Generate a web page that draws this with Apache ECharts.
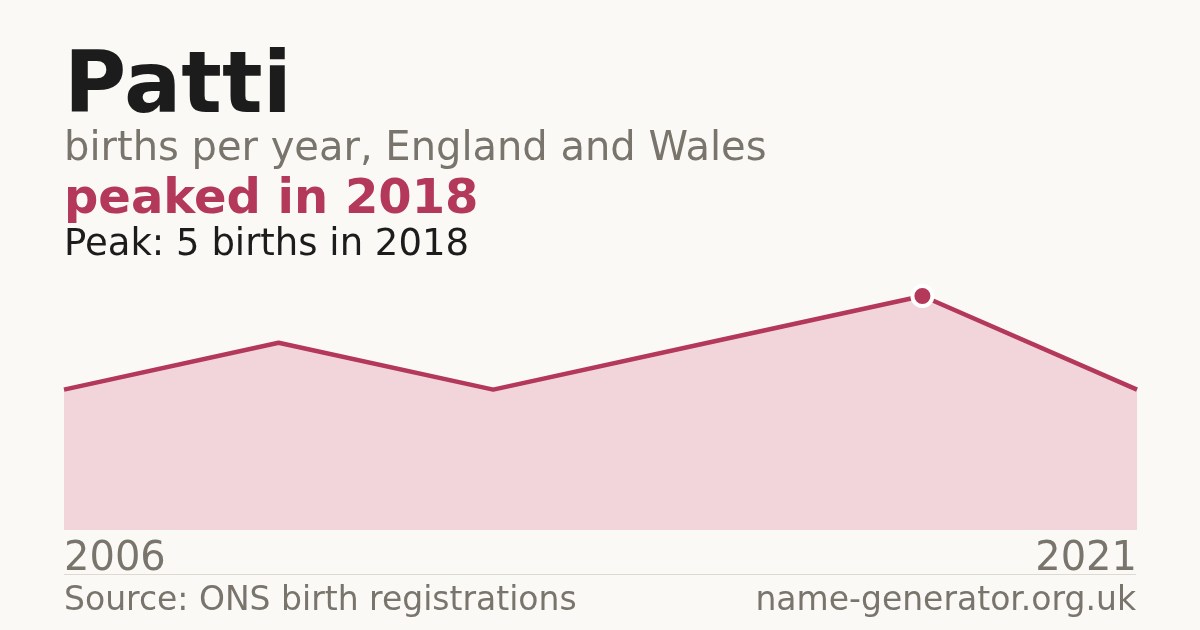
<!DOCTYPE html>
<html>
<head>
<meta charset="utf-8">
<script src="https://cdn.jsdelivr.net/npm/echarts@6/dist/echarts.min.js"></script>
<style>
  html, body { margin: 0; padding: 0; background: #faf9f5; }
  #chart { width: 1200px; height: 630px; }
</style>
</head>
<body>
<div id="chart"></div>
<script>
"use strict";
// data
var years = [2006, 2009, 2012, 2015, 2018, 2021];
var births = [3, 4, 3, 4, 5, 3];
var axisYears = [2006, 2021];

var nameText = "Patti";
var subText = "births per year, England and Wales";
var sourceText = "Source: ONS birth registrations";
var siteText = "name-generator.org.uk";

var red = "#b3385a";
var grey = "#79746c";
var font = "DejaVu Sans";

// find the peak
var peakIdx = 0;
births.forEach(function (v, i) {
    if (v > births[peakIdx]) peakIdx = i;
});
var peakYear = years[peakIdx], peakVal = births[peakIdx];

var chart = echarts.init(document.getElementById("chart"), null, { renderer: "canvas" });

function txt(x, y, s, size, color, weight, align) {
    return {
        type: "text", x: x, y: y, z: 10,
        style: {
            text: s, fill: color, align: align || "left", verticalAlign: "top",
            font: (weight || "normal") + " " + size + "px '" + font + "'"
        }
    };
}

var option = {
    backgroundColor: "#faf9f5",
    animation: false,
    grid: { left: 64, right: 63, top: 296, bottom: 100 },
    xAxis: {
        type: "value", min: years[0], max: years[years.length - 1],
        splitLine: { show: false },
        axisLine: { show: false },
        axisTick: { show: false },
        axisLabel: {
            customValues: axisYears,
            alignMinLabel: "left", alignMaxLabel: "right",
            margin: 10, color: grey, fontSize: 40, fontFamily: font,
            formatter: function (v) { return String(v); }
        }
    },
    yAxis: { type: "value", min: 0, max: peakVal, show: false, splitLine: { show: false } },
    series: [
        {
            type: "line",
            data: years.map(function (y, i) { return [y, births[i]]; }),
            symbol: "none",
            lineStyle: { color: red, width: 4.5 },
            areaStyle: { color: "#f2d5da", opacity: 1 },
            z: 2
        },
        {
            type: "scatter",
            data: [[peakYear, peakVal]],
            symbol: "circle",
            symbolSize: 20,
            itemStyle: { color: red, borderColor: "#ffffff", borderWidth: 4, opacity: 1 },
            emphasis: { disabled: true },
            z: 3
        }
    ],
    graphic: [
        txt(64, 47, nameText, 85, "#1c1c1c", "bold"),
        txt(64, 130, subText, 40, grey),
        txt(64, 177, "peaked in " + peakYear, 48, red, "bold"),
        txt(64, 227, "Peak: " + peakVal + " births in " + peakYear, 37, "#1c1c1c"),
        {
            type: "line", z: 5,
            shape: { x1: 64, y1: 574.5, x2: 1136, y2: 574.5 },
            style: { stroke: "#dedad2", lineWidth: 1 }
        },
        txt(64, 585, sourceText, 33, grey),
        txt(1136, 585, siteText, 33, grey, "normal", "right")
    ]
};
chart.setOption(option);
</script>
</body>
</html>
